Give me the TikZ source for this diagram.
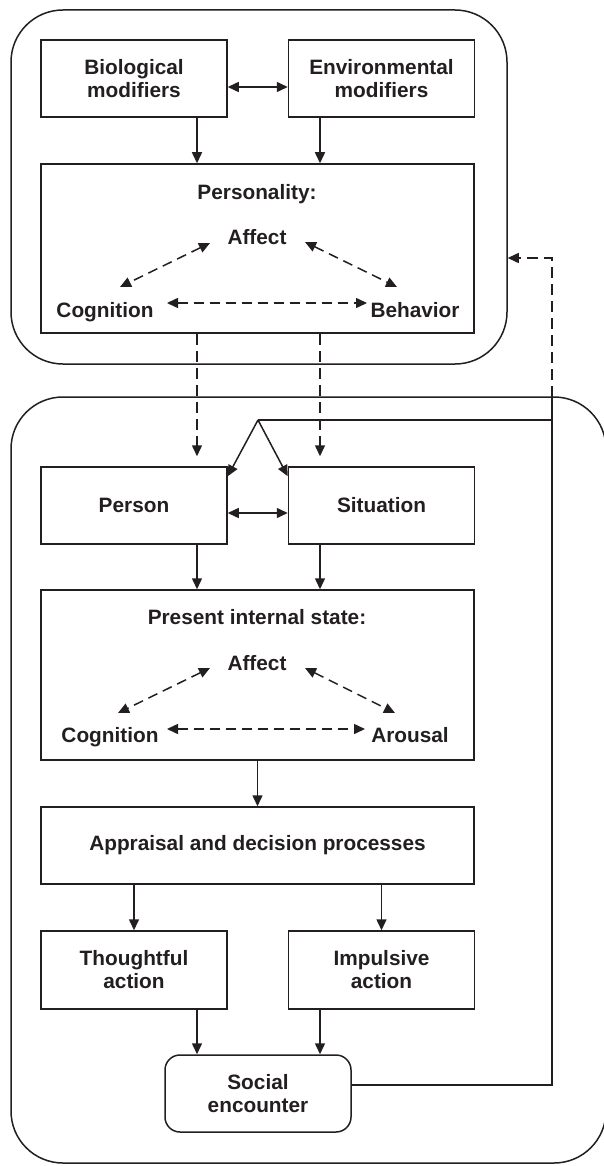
\documentclass[tikz,border=0pt]{standalone}
\usepackage{fontspec}
\setmainfont{Liberation Sans}
\usetikzlibrary{arrows.meta}
\definecolor{ink}{RGB}{35,31,32}

\tikzstyle{box} = [draw=ink, line width=0.75pt, minimum width=93pt, minimum height=38.5pt, inner sep=0pt, align=center, text=ink, font=\fontsize{10.4}{11.5}\selectfont\bfseries]
\tikzstyle{wide} = [box, minimum width=216.5pt]
\tikzstyle{panel} = [draw=ink, line width=0.75pt, rounded corners=26pt, inner sep=0pt]
\tikzstyle{lbl} = [inner sep=0pt, anchor=base, text=ink, font=\fontsize{10.4}{11.5}\selectfont\bfseries]
\tikzstyle{wire} = [draw=ink, line width=0.75pt]
\tikzstyle{arr} = [wire, -{Triangle[length=5.5pt,width=5pt]}]
\tikzstyle{biarr} = [wire, {Triangle[length=5.5pt,width=5pt]}-{Triangle[length=5.5pt,width=5pt]}]
\tikzstyle{dasharr} = [arr, dash pattern=on 5.5pt off 3pt]
\tikzstyle{dashbi} = [biarr, dash pattern=on 5pt off 3pt]

\begin{document}
\begin{tikzpicture}[x=0.5pt, y=-0.5pt]
\useasboundingbox (0,0) rectangle (604,1166);

\node[panel, minimum width=248pt, minimum height=177pt] (top) at (259,187) {};
\node[panel, minimum width=297.5pt, minimum height=383pt] (bottom) at (308.5,780) {};

\node[box] (bio) at (134,78.5) {Biological\\modifiers};
\node[box] (env) at (381.5,78.5) {Environmental\\modifiers};
\node[wide, minimum height=84.5pt] (pers) at (257.5,248.5) {};
\node[lbl] (perst) at (257,199) {Personality:};
\node[lbl] (paff) at (257,244) {Affect};
\node[lbl] (pcog) at (105,317) {Cognition};
\node[lbl] (pbeh) at (415,317) {Behavior};

\node[box] (person) at (134,505.5) {Person};
\node[box] (sit) at (381.5,505.5) {Situation};
\node[wide, minimum height=85pt] (state) at (257.5,675) {};
\node[lbl] (statet) at (257,624) {Present internal state:};
\node[lbl] (saff) at (257,670) {Affect};
\node[lbl] (scog) at (110,742) {Cognition};
\node[lbl] (saro) at (410,742) {Arousal};
\node[wide] (appr) at (257.5,845.5) {Appraisal and decision processes};
\node[box, minimum height=39pt] (thought) at (134,970) {Thoughtful\\action};
\node[box, minimum height=39pt] (impulse) at (381.5,970) {Impulsive\\action};
\node[box, rounded corners=7.5pt] (social) at (258,1093.5) {Social\\encounter};

\coordinate (lc) at (197,0);
\coordinate (rc) at (320,0);
\coordinate (edge) at (552,397);
\coordinate (fork) at (552,420);
\coordinate (fbtop) at (552,258);
\coordinate (apex) at (258,420);

\draw[biarr] ([yshift=-4.25pt]bio.east) -- ([yshift=-4.25pt]env.west);
\draw[arr] (bio.south -| lc) -- (pers.north -| lc);
\draw[arr] (env.south -| rc) -- (pers.north -| rc);
\draw[dashbi] ([shift={(-47,-1)}]paff.base) -- ([shift={(15,-30)}]pcog.base);
\draw[dashbi] ([shift={(48,-2)}]paff.base) -- ([shift={(-18,-30)}]pbeh.base);
\draw[dashbi] ([shift={(62,-14)}]pcog.base) -- ([shift={(-48,-14)}]pbeh.base);

\draw[dasharr, shorten >=5pt] (pers.south -| lc) -- (person.north -| lc);
\draw[dasharr, shorten >=5pt] (pers.south -| rc) -- (sit.north -| rc);
\draw[biarr] ([yshift=-3.75pt]person.east) -- ([yshift=-3.75pt]sit.west);
\draw[arr] (person.south -| lc) -- (state.north -| lc);
\draw[arr] (sit.south -| rc) -- (state.north -| rc);
\draw[dashbi] ([shift={(-47,-2)}]saff.base) -- ([shift={(8,-29)}]scog.base);
\draw[dashbi] ([shift={(48,-2)}]saff.base) -- ([shift={(-15,-29)}]saro.base);
\draw[dashbi] ([shift={(57,-13)}]scog.base) -- ([shift={(-45,-13)}]saro.base);

\draw[arr] (state.south) -- (appr.north);
\draw[arr] (appr.south -| thought) -- (thought.north);
\draw[arr] (appr.south -| impulse) -- (impulse.north);
\draw[arr] (thought.south -| lc) -- (social.north -| lc);
\draw[arr] (impulse.south -| rc) -- (social.north -| rc);

\draw[wire] ([yshift=4.25pt]social.east) -| (edge);
\draw[dasharr] (edge) -- (fbtop) -- (fbtop -| top.east);
\draw[wire] (fork) -- (apex);
\draw[arr] (apex) -- ([yshift=-5pt]person.north east);
\draw[arr] (apex) -- ([yshift=-5pt]sit.north west);
\end{tikzpicture}
\end{document}
